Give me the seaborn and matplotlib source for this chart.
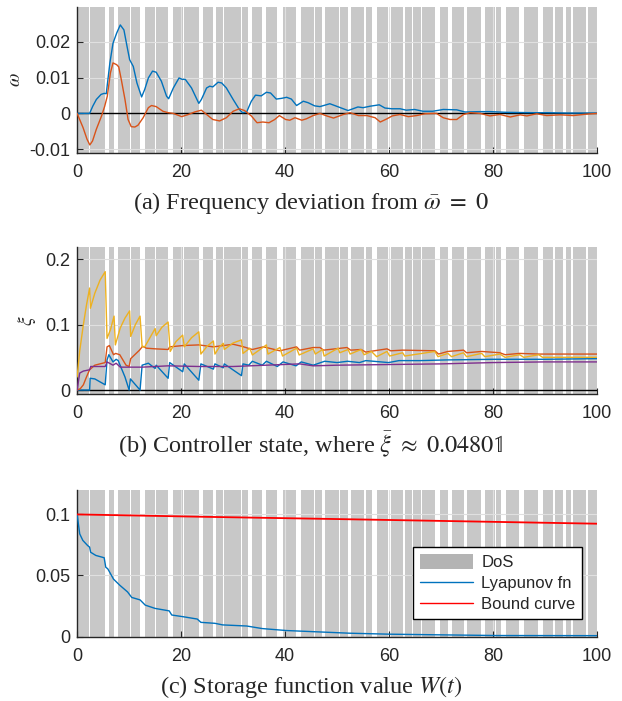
import numpy as np
import matplotlib
matplotlib.use("Agg")
import matplotlib.pyplot as plt
import seaborn as sns
from matplotlib.patches import Patch
from matplotlib.lines import Line2D

# DoS (attack on) intervals
dos_start = [0, 2.55, 6.15, 7.85, 10.4, 13.0, 15.2, 18.35, 20.55, 24.2, 26.75, 28.25,
             31.7, 33.6, 36.4, 39.6, 43.1, 45.7, 47.7, 50.5, 52.6, 55.6, 57.6, 60.3,
             63.1, 64.6, 66.4, 69.8, 72.0, 74.9, 78.5, 80.6, 82.5, 86.0, 89.6, 91.9,
             94.0, 95.4, 98.2]
dos_end = [2.35, 5.4, 7.15, 10.2, 12.1, 15.0, 17.55, 20.35, 23.35, 26.15, 28.05, 31.5,
           32.85, 35.6, 38.5, 42.1, 45.5, 47.0, 50.3, 52.0, 55.1, 56.7, 59.7, 62.6,
           64.4, 66.2, 68.8, 71.3, 74.4, 77.7, 80.4, 81.6, 85.0, 88.7, 91.6, 93.5,
           95.0, 97.8, 100]

# (a) frequency deviation
w1_t = [0, 2.4, 3.0, 3.7, 4.6, 5.2, 5.6, 6.3, 6.9, 7.6, 8.3, 9.0, 9.6, 10.1, 10.8, 11.5,
        12.4, 13.0, 13.7, 14.5, 15.2, 16.2, 17.2, 17.6, 18.5, 19.6, 20.2, 20.8, 22.0,
        23.4, 23.9, 24.9, 25.5, 26.1, 27.1, 27.8, 28.7, 30.0, 31.2, 31.8, 32.6, 33.5,
        34.3, 35.4, 36.4, 37.2, 38.3, 39.3, 40.3, 41.2, 42.2, 43.5, 44.4, 45.7, 46.7,
        48.6, 49.9, 52.1, 54.0, 55.0, 56.3, 58.1, 59.2, 60.5, 62.1, 63.3, 64.9, 66.5,
        68.4, 70.4, 73.0, 74.6, 77.5, 79.4, 82.6, 87.7, 90.3, 94.1, 100]
w1_v = [0, 0, 0.002, 0.0039, 0.0053, 0.0056, 0.0055, 0.0141, 0.0196, 0.0224, 0.0247,
        0.0233, 0.0187, 0.015, 0.0131, 0.0085, 0.0046, 0.0067, 0.0099, 0.0118, 0.0115,
        0.009, 0.0048, 0.0041, 0.0071, 0.0099, 0.0095, 0.0095, 0.0071, 0.0028, 0.0039,
        0.0071, 0.0076, 0.0074, 0.0087, 0.0085, 0.0071, 0.0039, 0.0011, 0.0002, 0.0004,
        0.0034, 0.0051, 0.0049, 0.0059, 0.0057, 0.004, 0.0042, 0.0045, 0.004, 0.0022,
        0.0034, 0.003, 0.0021, 0.0019, 0.0027, 0.002, 0.0008, 0.0018, 0.0016, 0.002,
        0.0024, 0.0015, 0.0013, 0.0013, 0.0009, 0.0011, 0.0006, 0.0006, 0.0011, 0.001,
        0.0004, 0.0005, 0.0005, 0.0003, 0.0002, 0.0002, 0.0001, 0.0001]

w2_t = [0, 1.15, 1.9, 2.44, 2.96, 3.7, 4.7, 5.3, 5.8, 6.4, 6.9, 7.6, 8.0, 8.5, 9.2, 9.8,
        10.4, 11.1, 11.7, 12.7, 13.7, 14.3, 15.2, 16.5, 17.5, 18.5, 20.1, 21.4, 22.6,
        23.9, 24.9, 26.1, 27.4, 28.7, 30.0, 31.2, 32.2, 33.5, 34.6, 35.7, 36.9, 38.0,
        38.9, 40.1, 40.9, 41.9, 43.2, 44.1, 45.4, 46.7, 48.0, 49.3, 51.2, 52.5, 54.1,
        55.7, 57.3, 58.3, 59.6, 60.6, 62.1, 63.7, 65.3, 66.9, 69.1, 70.4, 71.7, 73.0,
        74.3, 75.6, 77.5, 79.4, 81.3, 83.3, 85.2, 86.5, 88.4, 90.3, 92.9, 95.4, 98.0, 100]
w2_v = [0, -0.004, -0.0072, -0.0088, -0.0077, -0.0044, -0.0007, 0.002, 0.0048, 0.0113,
        0.0141, 0.0136, 0.013, 0.0094, 0.0039, -0.0017, -0.0037, -0.0038, -0.0033,
        -0.0012, 0.0016, 0.0022, 0.0019, 0.0006, 0.0002, 0, -0.0009, -0.0003, 0.0004,
        0.0009, -0.0003, -0.0017, -0.0021, -0.0012, 0.0006, 0.0013, 0.0008, -0.0007,
        -0.0026, -0.0024, -0.0026, -0.0017, -0.0006, -0.0017, -0.0019, -0.0012, -0.0019,
        -0.0015, -0.0006, 0, -0.0007, -0.0013, -0.0003, 0.0002, -0.0006, -0.0006, -0.0012,
        -0.0024, -0.0015, -0.0007, -0.0003, -0.0009, -0.0006, -0.0001, 0, -0.0012,
        -0.0017, -0.0017, -0.0003, 0.0002, 0, -0.0007, -0.0003, -0.001, -0.0004, -0.0007,
        -0.0001, -0.0006, -0.0004, -0.0006, -0.0002, 0]

# (b) controller states
x1_t = [0, 2.4, 2.5, 3.4, 5.4, 5.75, 6.1, 6.9, 7.5, 7.9, 9.2, 10.0, 10.25, 12.1, 12.5,
        13.7, 15.0, 15.2, 17.5, 17.8, 20.3, 20.6, 23.4, 23.8, 26.2, 26.5, 28.1, 28.3,
        31.6, 31.9, 33.0, 33.7, 35.6, 36.4, 38.5, 39.6, 42.1, 43.1, 45.4, 47.6, 50.0,
        52.0, 54.3, 55.5, 59.9, 61.9, 66.0, 70.8, 80.0, 90.0, 100]
x1_v = [0, 0, 0.018, 0.017, 0.008, 0.046, 0.054, 0.043, 0.047, 0.045, 0.02, 0.0, 0.017,
        0.0, 0.038, 0.041, 0.033, 0.038, 0.018, 0.042, 0.028, 0.04, 0.015, 0.04, 0.032,
        0.04, 0.034, 0.04, 0.022, 0.04, 0.038, 0.044, 0.038, 0.044, 0.036, 0.043, 0.037,
        0.043, 0.038, 0.044, 0.042, 0.044, 0.042, 0.045, 0.042, 0.045, 0.045, 0.046,
        0.047, 0.047, 0.048]

x2_t = [0, 0.6, 1.2, 1.8, 2.4, 3.4, 5.4, 5.75, 6.2, 7.0, 7.4, 8.2, 9.4, 10.0, 10.3, 12.0,
        12.6, 13.3, 15.0, 17.5, 17.8, 20.3, 23.4, 26.2, 28.1, 30.0, 31.6, 33.7, 35.8,
        36.4, 39.0, 42.2, 42.8, 45.4, 46.7, 47.4, 51.9, 52.6, 54.6, 55.5, 59.6, 60.3,
        62.6, 68.8, 69.5, 71.3, 74.3, 74.9, 77.8, 81.3, 82.3, 85.1, 88.8, 100]
x2_v = [0, 0.002, 0.008, 0.02, 0.031, 0.038, 0.042, 0.066, 0.068, 0.054, 0.056, 0.054,
        0.038, 0.036, 0.048, 0.061, 0.067, 0.064, 0.063, 0.062, 0.066, 0.068, 0.069,
        0.066, 0.068, 0.07, 0.067, 0.062, 0.066, 0.065, 0.06, 0.066, 0.061, 0.065, 0.065,
        0.061, 0.065, 0.061, 0.062, 0.058, 0.063, 0.06, 0.061, 0.06, 0.055, 0.059, 0.061,
        0.057, 0.059, 0.057, 0.054, 0.056, 0.055, 0.055]

x3_t = [0, 0.5, 1.2, 1.8, 2.4, 2.55, 3.4, 4.4, 5.4, 5.75, 6.4, 7.1, 7.35, 8.3, 9.2, 10.1,
        10.3, 11.2, 12.1, 12.5, 13.0, 14.0, 15.0, 15.2, 16.3, 17.5, 17.9, 19.0, 20.3,
        20.6, 22.0, 23.4, 23.8, 25.0, 26.2, 26.5, 27.3, 28.1, 28.3, 30.0, 31.6, 31.9,
        33.2, 33.7, 36.4, 36.7, 39.0, 39.5, 42.2, 42.7, 45.4, 45.8, 47.2, 47.5, 50.2,
        50.5, 52.1, 52.5, 54.6, 55.2, 56.6, 57.6, 59.6, 60.1, 62.6, 63.0, 68.8, 69.4,
        71.3, 72.0, 74.3, 74.9, 77.8, 78.4, 81.3, 82.3, 85.1, 85.9, 88.8, 89.5, 100]
x3_v = [0.02, 0.06, 0.1, 0.13, 0.156, 0.125, 0.148, 0.168, 0.181, 0.079, 0.092, 0.113,
        0.069, 0.095, 0.11, 0.121, 0.082, 0.1, 0.113, 0.066, 0.066, 0.08, 0.094, 0.083,
        0.096, 0.104, 0.059, 0.074, 0.084, 0.066, 0.08, 0.089, 0.055, 0.067, 0.075,
        0.055, 0.065, 0.0715, 0.062, 0.072, 0.0766, 0.056, 0.064, 0.0536, 0.069, 0.055,
        0.065, 0.052, 0.064, 0.0536, 0.063, 0.055, 0.062, 0.052, 0.064, 0.057, 0.062,
        0.055, 0.062, 0.054, 0.059, 0.051, 0.059, 0.052, 0.057, 0.052, 0.059, 0.051,
        0.056, 0.051, 0.057, 0.051, 0.056, 0.051, 0.055, 0.05, 0.054, 0.05, 0.054, 0.05,
        0.05]

x4_t = [0, 0.5, 1.2, 2.4, 2.6, 5.4, 5.75, 6.9, 7.5, 8.3, 12.5, 17.5, 23.4, 30.0, 36.4,
        42.8, 45.4, 50.0, 60.0, 70.0, 80.0, 90.0, 100]
x4_v = [0, 0.026, 0.029, 0.031, 0.036, 0.036, 0.043, 0.038, 0.041, 0.035, 0.035, 0.037,
        0.036, 0.036, 0.038, 0.04, 0.037, 0.038, 0.039, 0.04, 0.042, 0.043, 0.043]

# (c) storage function
lyap_t = [0, 0.5, 1.1, 2.0, 2.4, 2.6, 3.6, 5.2, 5.5, 5.9, 7.0, 8.2, 9.7, 10.5, 12.1,
          13.1, 15.0, 17.7, 18.2, 20.4, 23.1, 23.8, 26.5, 28.0, 32.6, 35.6, 40.2, 46.3,
          52.4, 60.1, 69.2, 80.7, 100]
lyap_v = [0.1, 0.084, 0.0787, 0.0746, 0.0732, 0.069, 0.0664, 0.0645, 0.0568, 0.0554,
          0.047, 0.042, 0.0365, 0.032, 0.03, 0.0257, 0.023, 0.021, 0.0176, 0.0162,
          0.0143, 0.0116, 0.0108, 0.0095, 0.0086, 0.0065, 0.0049, 0.0038, 0.0027,
          0.0019, 0.0014, 0.0008, 0.0007]
bound_t = [0, 25, 50, 75, 100]
bound_v = [0.1, 0.098, 0.0962, 0.0943, 0.0924]

xticks = [0, 20, 40, 60, 80, 100]

blue, orange, yellow, purple = "#0072BD", "#D95319", "#EDB120", "#7E2F8E"
band_color = "#c8c8c8"

sns.set_theme(style="white")
plt.rcParams["font.family"] = ["Liberation Sans", "DejaVu Sans"]
plt.rcParams["mathtext.fontset"] = "stix"

fig = plt.figure(figsize=(6.22, 7.01), dpi=100)


def setup_axes(ax, ylim, yticks, ylabels):
    for s, e in zip(dos_start, dos_end):
        ax.axvspan(s, e, color=band_color, lw=0, zorder=0)
    ax.set_xlim(0, 100)
    ax.set_ylim(*ylim)
    ax.set_xticks(xticks)
    ax.set_xticklabels([str(v) for v in xticks])
    ax.set_yticks(yticks)
    ax.set_yticklabels(ylabels)
    ax.set_axisbelow(True)
    ax.grid(True, color="#e0e0e0", lw=0.8)
    for side in ["top", "right"]:
        ax.spines[side].set_visible(False)
    for side in ["left", "bottom"]:
        ax.spines[side].set_color("#262626")
        ax.spines[side].set_linewidth(1.0)
    ax.tick_params(direction="in", length=4, width=0.8, colors="#262626",
                   labelsize=13, left=True, bottom=True)
    ax.tick_params(axis="x", pad=8)
    ax.tick_params(axis="y", pad=5)
    ax.set_xlabel("")


# panel (a)
ax1 = fig.add_axes([0.124, 0.782, 0.836, 0.208])
setup_axes(ax1, (-0.011, 0.0297), [-0.01, 0, 0.01, 0.02], ["-0.01", "0", "0.01", "0.02"])
ax1.axhline(0, color="black", lw=1.0, zorder=1)
sns.lineplot(x=w1_t, y=w1_v, ax=ax1, color=blue, lw=1.0, estimator=None, zorder=3)
sns.lineplot(x=w2_t, y=w2_v, ax=ax1, color=orange, lw=1.0, estimator=None, zorder=3)
ax1.set_ylabel(r"$\omega$", fontsize=14, labelpad=4)

# panel (b)
ax2 = fig.add_axes([0.124, 0.438, 0.836, 0.209])
setup_axes(ax2, (-0.006, 0.218), [0, 0.1, 0.2], ["0", "0.1", "0.2"])
ax2.axhline(0, color="black", lw=1.0, zorder=1)
sns.lineplot(x=x1_t, y=x1_v, ax=ax2, color=blue, lw=1.0, estimator=None, zorder=3)
sns.lineplot(x=x2_t, y=x2_v, ax=ax2, color=orange, lw=1.0, estimator=None, zorder=3)
sns.lineplot(x=x3_t, y=x3_v, ax=ax2, color=yellow, lw=1.0, estimator=None, zorder=3)
sns.lineplot(x=x4_t, y=x4_v, ax=ax2, color=purple, lw=1.0, estimator=None, zorder=3)
ax2.set_ylabel(r"$\xi$", fontsize=14, labelpad=5)

# panel (c)
ax3 = fig.add_axes([0.124, 0.092, 0.836, 0.209])
setup_axes(ax3, (0, 0.12), [0, 0.05, 0.1], ["0", "0.05", "0.1"])
sns.lineplot(x=lyap_t, y=lyap_v, ax=ax3, color=blue, lw=1.0, estimator=None, zorder=3)
sns.lineplot(x=bound_t, y=bound_v, ax=ax3, color="#ff0000", lw=1.3, estimator=None, zorder=3)
handles = [Patch(facecolor="#b4b4b4", edgecolor="none"),
           Line2D([], [], color=blue, lw=1.0),
           Line2D([], [], color="#ff0000", lw=1.0)]
leg = ax3.legend(handles, ["DoS", "Lyapunov fn", "Bound curve"], loc="lower right",
                 bbox_to_anchor=(0.971, 0.119), borderaxespad=0, fontsize=12,
                 frameon=True, fancybox=False, framealpha=1, edgecolor="black",
                 handlelength=3.2, handleheight=1.0, labelspacing=0.3,
                 borderpad=0.4, handletextpad=0.5)
leg.get_frame().set_linewidth(1.0)

cap_font = dict(family=["Liberation Serif", "DejaVu Serif"], fontsize=17.5,
                ha="center", va="center")
fig.text(0.5, 1 - 203 / 701, r"(a) Frequency deviation from $\bar{\omega}\ =\ 0$", **cap_font)
fig.text(0.5, 1 - 445 / 701, r"(b) Controller state, where $\bar{\xi}\ \approx\ 0.0480\mathbb{1}$", **cap_font)
fig.text(0.5, 1 - 687 / 701, r"(c) Storage function value $W(t)$", **cap_font)

fig.savefig("out.png", dpi=100)
